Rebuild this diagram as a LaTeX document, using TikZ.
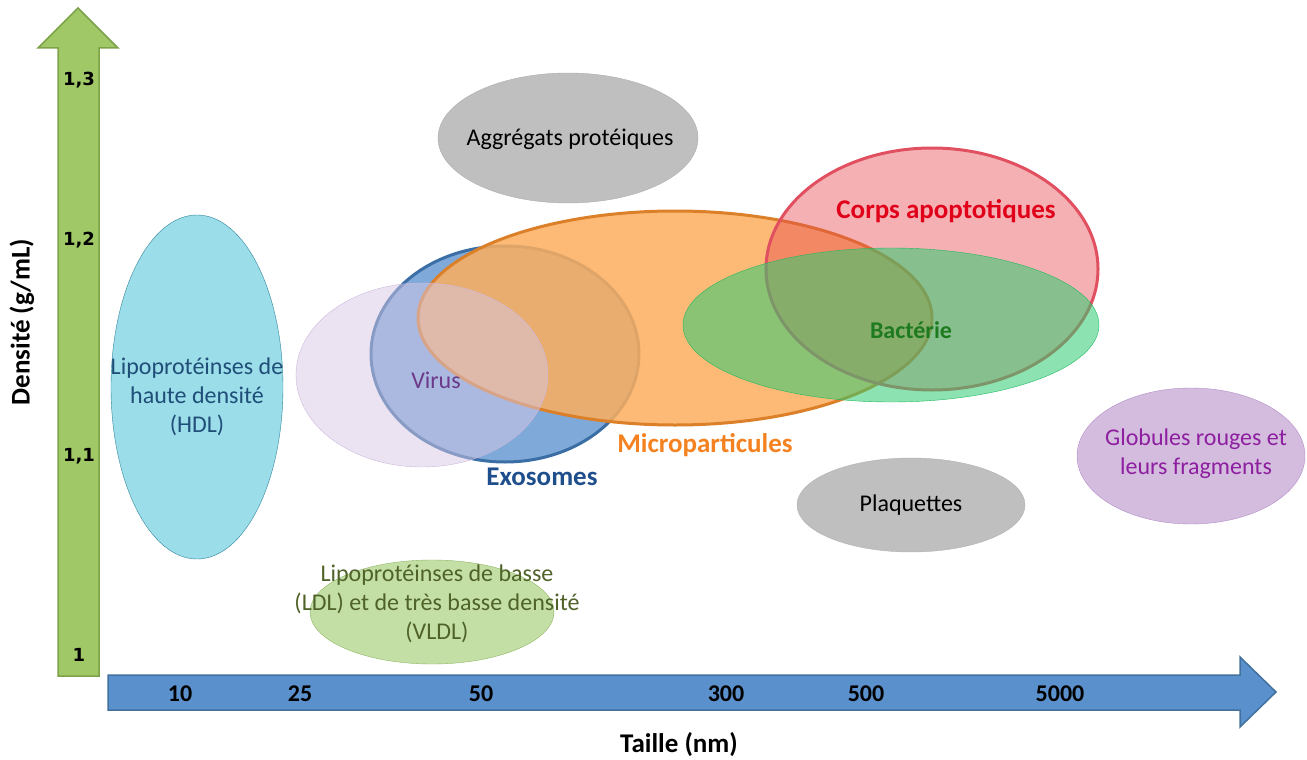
\documentclass[tikz,border=0pt]{standalone}
\usepackage{fontspec}
\setmainfont{Carlito}
\newfontfamily\tickfont{DejaVu Sans}
\usetikzlibrary{shapes.geometric}
\definecolor{axgreen}{HTML}{A0C866}
\definecolor{axgreenD}{HTML}{7EA24A}
\definecolor{axblue}{HTML}{5A90CB}
\definecolor{axblueD}{HTML}{41719C}
\definecolor{hdlF}{HTML}{9BDDE8}
\definecolor{hdlD}{HTML}{31849B}
\definecolor{hdlT}{HTML}{1F4E79}
\definecolor{exoF}{HTML}{7FA9D8}
\definecolor{exoD}{HTML}{3A6EA5}
\definecolor{exoT}{HTML}{1F4E8C}
\definecolor{micF}{HTML}{FCAE5E}
\definecolor{micD}{HTML}{DB8028}
\definecolor{micT}{HTML}{F58220}
\definecolor{virF}{HTML}{D7C8E6}
\definecolor{virD}{HTML}{CDB8DD}
\definecolor{virT}{HTML}{6B3A8A}
\definecolor{apoF}{HTML}{E8474F}
\definecolor{apoD}{HTML}{E05060}
\definecolor{apoT}{HTML}{E0001A}
\definecolor{bacF}{HTML}{2ECC71}
\definecolor{bacD}{HTML}{20B860}
\definecolor{bacT}{HTML}{1E7A1E}
\definecolor{grisF}{HTML}{BFBFBF}
\definecolor{gloF}{HTML}{D3BCDD}
\definecolor{gloD}{HTML}{B48CC8}
\definecolor{gloT}{HTML}{8E1FA0}
\definecolor{ldlF}{HTML}{C4DFA6}
\definecolor{ldlD}{HTML}{8DB660}
\definecolor{ldlT}{HTML}{4F6228}
\tikzset{
  ell/.style={ellipse, inner sep=0pt},
  lbl/.style={font=\fontsize{24}{29}\selectfont, align=center, text opacity=1},
  blbl/.style={font=\fontsize{27}{30}\selectfont\bfseries, text opacity=1},
  ytick/.style={font=\tickfont\fontsize{18}{22}\selectfont\bfseries},
  xtick/.style={font=\fontsize{24}{28}\selectfont\bfseries}
}
\begin{document}
\begin{tikzpicture}[x=1pt, y=-1pt]
 \useasboundingbox (0,0) rectangle (1307,760);
 % axes
 \draw[axgreenD, fill=axgreen, line width=1.5pt](58,676)--(58,48)--(38,48)--(78,8)--(118,48)--(99,48)--(99,676)--cycle;
 \draw[axblueD, fill=axblue, line width=1.5pt](108,675)--(1240,675)--(1240,657)--(1276,692)--(1240,727)--(1240,710)--(108,710)--cycle;
 \foreach \p/\v in {80/{1,3},240/{1,2},456/{1,1},655/1}
 {
     \node[ytick] (d\p) at (79,\p) {\v};
 }
 \foreach \p/\v in {180/10,300/25,481/50,726/300,866/500,1060/5000}
 {
     \node[xtick] (t\p) at (\p,694) {\v};
 }
 \node[blbl, rotate=90] (ylab) at (22,322) {Densité (g/mL)};
 \node[blbl] (xlab) at (679,745) {Taille (nm)};

 % ellipses
 \node[ell, draw=hdlD, fill=hdlF, minimum width=172, minimum height=344] (hdl) at (197,387) {};
 \node[ell, draw=ldlD, fill=ldlF, minimum width=244, minimum height=104] (ldl) at (432,612) {};
 \node[ell, draw=grisF!90!black, fill=grisF, line width=.4pt, minimum width=260, minimum height=130] (agg) at (568,138) {};
 \node[ell, draw=exoD, fill=exoF, line width=3pt, minimum width=268, minimum height=216] (exo) at (505,354) {};
 \node[ell, draw=micD, fill=micF, fill opacity=.85, line width=3pt, minimum width=514, minimum height=214] (mic) at (675,318) {};
 \node[ell, draw=virD, fill=virF, fill opacity=.5, minimum width=252, minimum height=184] (vir) at (422,375) {};
 \node[ell, draw=apoD, fill=apoF, fill opacity=.43, line width=3pt, minimum width=332, minimum height=242] (apo) at (932,269) {};
 \node[ell, draw=bacD, fill=bacF, fill opacity=.55, minimum width=416, minimum height=154] (bac) at (891,325) {};
 \node[ell, draw=grisF!90!violet, fill=grisF, minimum width=228, minimum height=94] (plq) at (911,505) {};
 \node[ell, draw=gloD, fill=gloF, minimum width=228, minimum height=136] (glo) at (1191,456) {};

 % labels
 \node[lbl, text=hdlT] (hdlL) at (197,397) {Lipoprotéinses de\\haute densité\\(HDL)};
 \node[lbl, text=ldlT] (ldlL) at (437,604) {Lipoprotéinses de basse\\(LDL) et de très basse densité\\(VLDL)};
 \node[lbl] (aggL) at (570,139) {Aggrégats protéiques};
 \node[lbl, text=virT] (virL) at (436,380) {Virus};
 \node[blbl, text=exoT] (exoL) at (542,477) {Exosomes};
 \node[blbl, text=micT] (micL) at (705,445) {Microparticules};
 \node[blbl, text=apoT] (apoL) at (946,211) {Corps apoptotiques};
 \node[blbl, font=\fontsize{24}{28}\selectfont\bfseries, text=bacT] (bacL) at (911,330) {Bactérie};
 \node[lbl] (plqL) at (911,505) {Plaquettes};
 \node[lbl, text=gloT] (gloL) at (1196,454) {Globules rouges et\\leurs fragments};

\end{tikzpicture}
\end{document}
